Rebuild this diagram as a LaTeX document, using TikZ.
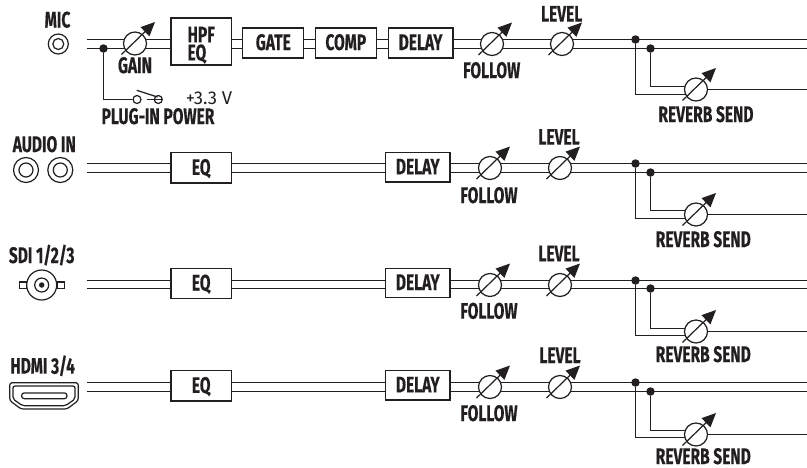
\documentclass[tikz,border=0pt]{standalone}
\usepackage{fontspec}
\usetikzlibrary{arrows.meta,backgrounds,calc}
\setmainfont{Fira Sans}
\newfontfamily\labfont[FakeStretch=0.69,BoldFeatures={FakeBold=0.35}]{Fira Sans}
\definecolor{ink}{HTML}{231F20}
\newcommand{\labsize}{\labfont\bfseries\fontsize{22.5}{18}\selectfont}
\tikzset{
  wire/.style={draw=ink,line width=1.25pt},
  lab/.style={font=\labsize,text=ink,inner sep=0pt,text height=14pt,text depth=0pt,anchor=center},
  boxframe/.style={draw=ink,line width=1.3pt,fill=white,inner sep=0pt,font=\labsize,text=ink,anchor=center},
  procbox/.style={boxframe,text height=14pt,text depth=0pt},
  potnode/.style={circle,draw=ink,line width=1.25pt,fill=white,minimum size=23pt,inner sep=0pt},
  jointdot/.style={circle,fill=ink,minimum size=8.5pt,inner sep=0pt},
  ring/.style={circle,draw=ink,line width=1.2pt,fill=white,inner sep=0pt},
  potarrow/.style={draw=ink,line width=1.2pt,-{Triangle[length=14pt,width=12.5pt]}}
}
\newcommand{\potat}[3]{%
  \node[potnode] (#1) at (#2,#3) {};
  \coordinate (#1s) at ($(#1)+(-13.5,11)$);
  \coordinate (#1t) at ($(#1)+(20,-21.5)$);
  \draw[potarrow] (#1s) -- (#1t);
}
\newcommand{\tailpart}[9]{%
  % #1 id #2 yu #3 yl #4 follow x #5 level x #6 potcentre y #7 reverb y #8 reverb up y #9 reverb low y
  \coordinate (#1u) at (87,#2);
  \coordinate (#1l) at (87,#3);
  \coordinate (#1eu) at (807,#2);
  \coordinate (#1el) at (807,#3);
  \node[jointdot] (#1da) at (635.5,#2) {};
  \node[jointdot] (#1db) at (650.5,#3) {};
  \potat{#1f}{#4}{#6}
  \potat{#1g}{#5}{#6}
  \potat{#1r}{696}{#7}
  \coordinate (#1ra) at (696,#9);
  \coordinate (#1rb) at (696,#8);
  \coordinate (#1re) at (807,#7);
  \begin{scope}[on background layer]
    \draw[wire] (#1da) |- (#1ra);
    \draw[wire] (#1db) |- (#1rb);
    \draw[wire] (#1r) -- (#1re);
  \end{scope}
}
\begin{document}
\begin{tikzpicture}[x=1pt,y=-1pt]
\useasboundingbox (0,0) rectangle (807,467);
% ---------- channel 1 : MIC
\node[lab] (micl) at (57.5,20.5) {MIC};
\node[ring,minimum size=20pt] (mico) at (58.3,44) {};
\node[ring,minimum size=11pt] (mici) at (58.3,44) {};
\potat{gain}{135}{43.5}
\node[boxframe,minimum width=60.5pt,minimum height=47pt,align=left] (hpf) at (201.2,41.5) {\rule{0pt}{23pt}HPF\\EQ};
\node[procbox,minimum width=61pt,minimum height=30pt] (gate) at (273.3,43) {GATE};
\node[procbox,minimum width=61pt,minimum height=30pt] (comp) at (345.8,43) {COMP};
\node[procbox,minimum width=64.5pt,minimum height=30pt] (dly1) at (420.6,43) {DELAY};
\tailpart{a}{39.5}{48.5}{492}{562}{44}{89.5}{86.5}{94.5}
\node[lab] (gainl) at (135,66) {GAIN};
\node[lab] (fa) at (491.7,71) {FOLLOW};
\node[lab] (la) at (561.7,14.6) {LEVEL};
\node[lab] (ra) at (706,115) {REVERB SEND};
\node[jointdot] (pd) at (103.5,48.5) {};
\node[ring,minimum size=8pt] (sw1) at (137,99.5) {};
\node[ring,minimum size=8pt] (sw2) at (158.3,99.5) {};
\coordinate (swend) at (162.5,99.5);
\coordinate (swbar) at (146.5,99.5);
\coordinate (armA) at (136.7,90.3);
\coordinate (armB) at (157.5,97);
\draw[wire] (pd) |- (sw1);
\draw[wire] (swbar) -- (swend);
\draw[wire] (armA) -- (armB);
\node[font=\fontsize{18.5}{19}\selectfont,text=ink,inner sep=0pt,anchor=center] (v33) at (209,98) {+3.3 V};
\node[lab] (plug) at (158,117) {PLUG-IN POWER};
\begin{scope}[on background layer]
  \foreach \c in {u,l}{
    \draw[wire] (a\c) -- (hpf.west |- a\c);
    \draw[wire] (hpf.east |- a\c) -- (gate.west |- a\c);
    \draw[wire] (gate.east |- a\c) -- (comp.west |- a\c);
    \draw[wire] (comp.east |- a\c) -- (dly1.west |- a\c);
    \draw[wire] (dly1.east |- a\c) -- (ae\c);
  }
\end{scope}
% ---------- channel 2 : AUDIO IN
\node[lab] (ail) at (44.3,145) {AUDIO IN};
\node[ring,minimum size=25pt] (ai1o) at (26,170) {};
\node[ring,minimum size=14pt] (ai1i) at (26,170) {};
\node[ring,minimum size=25pt] (ai2o) at (60.3,170) {};
\node[ring,minimum size=14pt] (ai2i) at (60.3,170) {};
\node[procbox,minimum width=60.5pt,minimum height=30.3pt] (eqb) at (201.2,167.9) {EQ};
\node[procbox,minimum width=64.5pt,minimum height=29.3pt] (dlyb) at (417.8,167.4) {DELAY};
\tailpart{b}{163.5}{172.5}{490}{560}{168}{214.5}{210.5}{218.5}
\node[lab] (fb) at (489,196) {FOLLOW};
\node[lab] (lb) at (559,137.7) {LEVEL};
\node[lab] (rb) at (703.3,240) {REVERB SEND};
\begin{scope}[on background layer]
  \foreach \c in {u,l}{
    \draw[wire] (b\c) -- (eqb.west |- b\c);
    \draw[wire] (eqb.east |- b\c) -- (dlyb.west |- b\c);
    \draw[wire] (dlyb.east |- b\c) -- (be\c);
  }
\end{scope}
% ---------- channel 3 : SDI
\node[lab] (sdil) at (41.7,256) {SDI 1/2/3};
\node[draw=ink,line width=1.2pt,fill=white,minimum width=7.7pt,minimum height=6.7pt,inner sep=0pt] (sdil1) at (23.2,285.3) {};
\node[draw=ink,line width=1.2pt,fill=white,minimum width=7.7pt,minimum height=6.7pt,inner sep=0pt] (sdir) at (60.8,285.3) {};
\node[ring,minimum size=30pt] (sdio) at (41.7,285) {};
\node[ring,minimum size=14pt] (sdii) at (41.7,285) {};
\node[circle,fill=ink,minimum size=5.5pt,inner sep=0pt] (sdic) at (41.7,285) {};
\node[procbox,minimum width=60.5pt,minimum height=30.3pt] (eqc) at (201.2,283.5) {EQ};
\node[procbox,minimum width=64.5pt,minimum height=29.3pt] (dlyc) at (417.8,283) {DELAY};
\tailpart{c}{280.5}{288.5}{490}{560}{285}{331.5}{328.5}{335.8}
\node[lab] (fc) at (489,311.7) {FOLLOW};
\node[lab] (lc) at (559,254.3) {LEVEL};
\node[lab] (rc) at (703.3,355) {REVERB SEND};
\begin{scope}[on background layer]
  \foreach \c in {u,l}{
    \draw[wire] (c\c) -- (eqc.west |- c\c);
    \draw[wire] (eqc.east |- c\c) -- (dlyc.west |- c\c);
    \draw[wire] (dlyc.east |- c\c) -- (ce\c);
  }
\end{scope}
% ---------- channel 4 : HDMI
\node[lab] (hdl) at (42.7,366.7) {HDMI 3/4};
\draw[ink,line width=1.2pt,rounded corners=2.5pt] (9.7,382.7) -- (78.3,382.7) -- (78.3,400.5) -- (67,409) -- (21,409) -- (9.7,400.5) -- cycle;
\draw[ink,line width=1.2pt,rounded corners=2pt] (13,386) -- (75,386) -- (75,399) -- (65.5,405.7) -- (22.5,405.7) -- (13,399) -- cycle;
\node[draw=ink,line width=1.2pt,rounded corners=2.5pt,minimum width=45.3pt,minimum height=5.7pt,inner sep=0pt] (hdslot) at (44.3,395.8) {};
\node[procbox,minimum width=60.5pt,minimum height=30.3pt] (eqd) at (201.2,385.9) {EQ};
\node[procbox,minimum width=64.5pt,minimum height=29.3pt] (dlyd) at (417.8,385.4) {DELAY};
\tailpart{d}{382.5}{391.5}{490}{560}{387}{434.5}{430.5}{437.8}
\node[lab] (fd) at (489,414) {FOLLOW};
\node[lab] (ld) at (560,356) {LEVEL};
\node[lab] (rd) at (703.3,457) {REVERB SEND};
\begin{scope}[on background layer]
  \foreach \c in {u,l}{
    \draw[wire] (d\c) -- (eqd.west |- d\c);
    \draw[wire] (eqd.east |- d\c) -- (dlyd.west |- d\c);
    \draw[wire] (dlyd.east |- d\c) -- (de\c);
  }
\end{scope}
\end{tikzpicture}
\end{document}
